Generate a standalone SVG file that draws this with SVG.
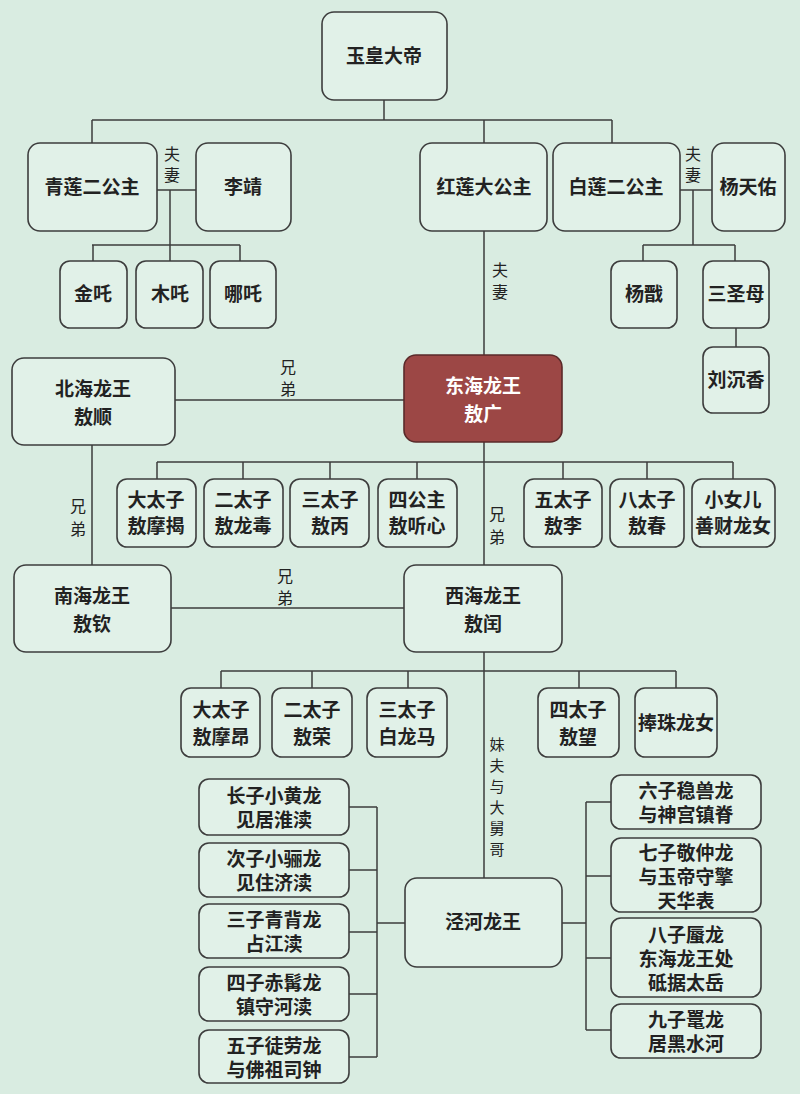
<svg xmlns="http://www.w3.org/2000/svg" width="800" height="1094" viewBox="0 0 800 1094">
<style>
.b{fill:#e1f1e8;stroke:#3d3d3d;stroke-width:1.6}
.r{fill:#9c4745;stroke:#5a2a2a;stroke-width:1.6}
text{font-family:"Noto Sans CJK SC",sans-serif;font-weight:bold;font-size:19px;fill:#222;text-anchor:middle}
.w{fill:#fff}
.s{font-size:16px;font-weight:normal}
.t{font-size:15px;font-weight:normal}
#c path{fill:none;stroke:#3d3d3d;stroke-width:1.5}
</style>
<rect width="800" height="1094" fill="#d9ece1"/>
<g id="c">
<path d="M384 100V120M92 120H612M92 120V143M484 120V143M612 120V143"/>
<path d="M157 190H196M170 190V245M92 245H240M93 245V261M170 245V261M240 245V261"/>
<path d="M680 190H712M693 190V245M643 245H735M643 245V261M735 245V261M736 328V347"/>
<path d="M484 231V355M175 400H404M92 445V565M484 442V565M157 462H733"/>
<path d="M157 462V479M243 462V479M330 462V479M417 462V479M563 462V479M647 462V479M733 462V479"/>
<path d="M171 608H404M484 652V878M221 671H676M221 671V688M312 671V688M408 671V688M579 671V688M676 671V688"/>
<path d="M349 807H377M349 870H377M349 932H377M349 994H377M349 1057H377M377 807V1057M377 923H405"/>
<path d="M562 923H586M586 802V1030M586 802H611M586 876H611M586 958H611M586 1030H611"/>
</g>
<g id="yh"><rect class="b" x="322" y="12" width="125" height="88" rx="12"/><text x="384" y="63">玉皇大帝</text></g>
<g id="ql"><rect class="b" x="28" y="143" width="129" height="88" rx="12"/><text x="92" y="194">青莲二公主</text></g>
<g id="lj"><rect class="b" x="196" y="143" width="95" height="88" rx="12"/><text x="243" y="194">李靖</text></g>
<text class="s" x="172" y="160">夫</text><text class="s" x="172" y="181">妻</text>
<g id="hl"><rect class="b" x="420" y="143" width="127" height="88" rx="12"/><text x="484" y="194">红莲大公主</text></g>
<g id="bl"><rect class="b" x="553" y="143" width="127" height="88" rx="12"/><text x="616" y="194">白莲二公主</text></g>
<g id="yty"><rect class="b" x="712" y="143" width="73" height="88" rx="12"/><text x="748" y="194">杨天佑</text></g>
<text class="s" x="693" y="160">夫</text><text class="s" x="693" y="181">妻</text>
<g id="jz"><rect class="b" x="60" y="261" width="67" height="67" rx="10"/><text x="93" y="301">金吒</text></g>
<g id="mz"><rect class="b" x="136" y="261" width="67" height="67" rx="10"/><text x="170" y="301">木吒</text></g>
<g id="nz"><rect class="b" x="210" y="261" width="66" height="67" rx="10"/><text x="243" y="301">哪吒</text></g>
<g id="yj"><rect class="b" x="611" y="261" width="66" height="67" rx="10"/><text x="644" y="301">杨戬</text></g>
<g id="ssm"><rect class="b" x="703" y="261" width="66" height="67" rx="10"/><text x="736" y="301">三圣母</text></g>
<g id="lcx"><rect class="b" x="703" y="347" width="66" height="66" rx="10"/><text x="736" y="387">刘沉香</text></g>
<text class="s" x="500" y="276">夫</text><text class="s" x="500" y="298">妻</text>
<g id="dh"><rect class="r" x="404" y="355" width="158" height="87" rx="12"/><text class="w" x="483" y="393">东海龙王</text><text class="w" x="483" y="421">敖广</text></g>
<g id="bh"><rect class="b" x="12" y="358" width="163" height="87" rx="12"/><text x="93" y="396">北海龙王</text><text x="93" y="424">敖顺</text></g>
<text class="s" x="288" y="373">兄</text><text class="s" x="288" y="395">弟</text>
<text class="s" x="78" y="512">兄</text><text class="s" x="78" y="535">弟</text>
<text class="s" x="497" y="520">兄</text><text class="s" x="497" y="543">弟</text>
<g id="d1"><rect class="b" x="117" y="479" width="79" height="68" rx="10"/><text x="156" y="507">大太子</text><text x="156" y="533">敖摩揭</text></g>
<g id="d2"><rect class="b" x="204" y="479" width="79" height="68" rx="10"/><text x="243" y="507">二太子</text><text x="243" y="533">敖龙毒</text></g>
<g id="d3"><rect class="b" x="290" y="479" width="79" height="68" rx="10"/><text x="330" y="507">三太子</text><text x="330" y="533">敖丙</text></g>
<g id="d4"><rect class="b" x="378" y="479" width="79" height="68" rx="10"/><text x="417" y="507">四公主</text><text x="417" y="533">敖听心</text></g>
<g id="d5"><rect class="b" x="524" y="479" width="78" height="68" rx="10"/><text x="563" y="507">五太子</text><text x="563" y="533">敖李</text></g>
<g id="d8"><rect class="b" x="610" y="479" width="74" height="68" rx="10"/><text x="647" y="507">八太子</text><text x="647" y="533">敖春</text></g>
<g id="dx"><rect class="b" x="692" y="479" width="83" height="68" rx="10"/><text x="733" y="507">小女儿</text><text x="733" y="533">善财龙女</text></g>
<g id="nh"><rect class="b" x="14" y="565" width="157" height="87" rx="12"/><text x="92" y="603">南海龙王</text><text x="92" y="631">敖钦</text></g>
<g id="xh"><rect class="b" x="404" y="565" width="158" height="87" rx="12"/><text x="483" y="603">西海龙王</text><text x="483" y="631">敖闰</text></g>
<text class="s" x="285" y="582">兄</text><text class="s" x="285" y="604">弟</text>
<g id="x1"><rect class="b" x="181" y="688" width="79" height="69" rx="10"/><text x="221" y="717">大太子</text><text x="221" y="744">敖摩昂</text></g>
<g id="x2"><rect class="b" x="272" y="688" width="80" height="69" rx="10"/><text x="312" y="717">二太子</text><text x="312" y="744">敖荣</text></g>
<g id="x3"><rect class="b" x="367" y="688" width="80" height="69" rx="10"/><text x="407" y="717">三太子</text><text x="407" y="744">白龙马</text></g>
<g id="x4"><rect class="b" x="538" y="688" width="81" height="69" rx="10"/><text x="578" y="717">四太子</text><text x="578" y="744">敖望</text></g>
<g id="x5"><rect class="b" x="635" y="688" width="82" height="69" rx="10"/><text x="676" y="730">捧珠龙女</text></g>
<text class="t" x="497" y="750">妹</text><text class="t" x="497" y="771">夫</text><text class="t" x="497" y="792">与</text><text class="t" x="497" y="813">大</text><text class="t" x="497" y="834">舅</text><text class="t" x="497" y="855">哥</text>
<g id="jh"><rect class="b" x="405" y="878" width="157" height="89" rx="12"/><text x="483" y="929">泾河龙王</text></g>
<g id="l1"><rect class="b" x="199" y="779" width="150" height="56" rx="10"/><text x="274" y="803">长子小黄龙</text><text x="274" y="827">见居淮渎</text></g>
<g id="l2"><rect class="b" x="199" y="843" width="150" height="54" rx="10"/><text x="274" y="866">次子小骊龙</text><text x="274" y="890">见住济渎</text></g>
<g id="l3"><rect class="b" x="199" y="904" width="150" height="54" rx="10"/><text x="274" y="927">三子青背龙</text><text x="274" y="951">占江渎</text></g>
<g id="l4"><rect class="b" x="199" y="967" width="150" height="54" rx="10"/><text x="274" y="990">四子赤髯龙</text><text x="274" y="1014">镇守河渎</text></g>
<g id="l5"><rect class="b" x="199" y="1030" width="150" height="53" rx="10"/><text x="274" y="1053">五子徒劳龙</text><text x="274" y="1077">与佛祖司钟</text></g>
<g id="r6"><rect class="b" x="611" y="775" width="150" height="54" rx="10"/><text x="686" y="798">六子稳兽龙</text><text x="686" y="822">与神宫镇脊</text></g>
<g id="r7"><rect class="b" x="611" y="838" width="150" height="74" rx="10"/><text x="686" y="860">七子敬仲龙</text><text x="686" y="884">与玉帝守擎</text><text x="686" y="908">天华表</text></g>
<g id="r8"><rect class="b" x="611" y="918" width="150" height="79" rx="10"/><text x="686" y="942">八子蜃龙</text><text x="686" y="966">东海龙王处</text><text x="686" y="990">砥据太岳</text></g>
<g id="r9"><rect class="b" x="611" y="1004" width="150" height="54" rx="10"/><text x="686" y="1027">九子鼍龙</text><text x="686" y="1051">居黑水河</text></g>
</svg>
